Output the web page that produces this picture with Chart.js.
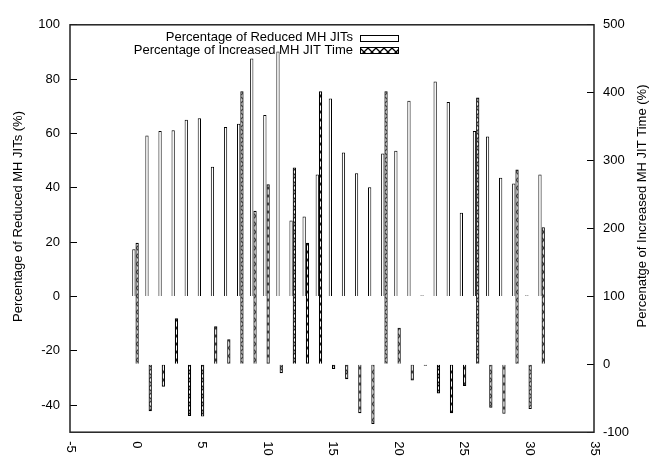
<!DOCTYPE html>
<html>
<head>
<meta charset="utf-8">
<script src="https://cdn.jsdelivr.net/npm/chart.js@4/dist/chart.umd.min.js"></script>
<style>
  html, body { margin: 0; padding: 0; background: #fff; }
  #wrap { width: 652px; height: 457px; }
</style>
</head>
<body>
<div id="wrap"><canvas id="jitChart" width="652" height="457"></canvas></div>
<script>
// Run index on x, one pair of bars per run
const runs = [0, 1, 2, 3, 4, 5, 6, 7, 8, 9, 10, 11, 12, 13, 14, 15,
  16, 17, 18, 19, 20, 21, 22, 23, 24, 25, 26, 27, 28, 29, 30, 31];

// left axis (%)
const reducedJITs = [17.4, 59.2, 60.9, 61.2, 65.0, 65.6, 47.7, 62.4, 63.6, 87.6, 66.8, 90.2,
  27.9, 29.4, 44.9, 72.9, 53.0, 45.3, 40.2, 52.6, 53.6, 72.0, 0.4, 79.1,
  71.6, 30.8, 60.9, 58.9, 43.7, 41.6, 0.4, 44.9];

// right axis (%)
const increasedJITTime = [179, -69, -33, 68, -76, -77, 56, 37, 402, 226, 265, -13,
  290, 179, 402, -7, -22, -72, -88, 402, 54, -24, -2, -43,
  -72, -32, 393, -64, -73, 287, -66, 202];

const leftTicks = [-40, -20, 0, 20, 40, 60, 80, 100];
const rightTicks = [-100, 0, 100, 200, 300, 400, 500];
const xTicks = [-5, 0, 5, 10, 15, 20, 25, 30, 35];

const seriesNames = ['Percentage of Reduced MH JITs', 'Percentage of Increased MH JIT Time'];
const leftTitle = 'Percentage of Reduced MH JITs (%)';
const rightTitle = 'Percenatge of Increased MH JIT Time (%)';

const FONT = '"Liberation Sans", Arial, Helvetica, sans-serif';
Chart.defaults.font.family = FONT;
Chart.defaults.font.size = 13;
Chart.defaults.color = '#000';

// crosshatch fill like gnuplot's pattern
function makeHatch() {
  const c = document.createElement('canvas');
  c.width = 8; c.height = 8;
  const g = c.getContext('2d');
  g.fillStyle = '#fff';
  g.fillRect(0, 0, 8, 8);
  g.strokeStyle = '#000';
  g.lineWidth = 1.3;
  g.beginPath();
  g.moveTo(0, 0); g.lineTo(8, 8);
  g.moveTo(8, 0); g.lineTo(0, 8);
  g.stroke();
  return g.createPattern(c, 'repeat');
}
const hatch = makeHatch();
const fills = ['#ffffff', hatch];

// frame, titles, rotated x labels and the in-plot key
const gnuplotDecor = {
  id: 'gnuplotDecor',
  afterDraw(chart) {
    const { ctx, chartArea: a, scales } = chart;
    ctx.save();
    ctx.strokeStyle = '#222';
    ctx.lineWidth = 1.5;
    ctx.strokeRect(a.left, a.top, a.right - a.left, a.bottom - a.top);

    ctx.fillStyle = '#000';
    ctx.font = '13px ' + FONT;

    // x tick labels, turned clockwise and clipped by the page bottom
    xTicks.forEach(v => {
      const px = scales.x.getPixelForValue(v);
      ctx.save();
      ctx.translate(px + 1, a.bottom + 9);
      ctx.rotate(Math.PI / 2);
      ctx.textAlign = 'left';
      ctx.textBaseline = 'middle';
      ctx.fillText(String(v), 0, 0);
      ctx.restore();
    });

    // axis titles, both reading bottom to top
    ctx.textAlign = 'center';
    ctx.textBaseline = 'middle';
    ctx.save();
    ctx.translate(18.5, 216.5);
    ctx.rotate(-Math.PI / 2);
    ctx.fillText(leftTitle, 0, 0);
    ctx.restore();
    ctx.save();
    ctx.translate(642, 206);
    ctx.rotate(-Math.PI / 2);
    ctx.fillText(rightTitle, 0, 0);
    ctx.restore();

    // key
    const textRight = a.left + 283;
    const boxLeft = a.left + 290;
    const boxW = 38, boxH = 6;
    seriesNames.forEach((name, i) => {
      const y = a.top + 13 + i * 12.5;
      ctx.textAlign = 'right';
      ctx.fillText(name, textRight, y);
      ctx.fillStyle = fills[i];
      ctx.fillRect(boxLeft, y - boxH / 2, boxW, boxH);
      ctx.strokeStyle = '#000';
      ctx.lineWidth = 1;
      ctx.strokeRect(boxLeft + 0.5, Math.round(y - boxH / 2) + 0.5, boxW, boxH);
      ctx.fillStyle = '#000';
    });
    ctx.restore();
  }
};

const tickGrid = { drawOnChartArea: false, drawTicks: true, tickLength: -7, color: '#000', lineWidth: 1 };

new Chart(document.getElementById('jitChart'), {
  type: 'bar',
  data: {
    datasets: [
      {
        label: seriesNames[0],
        data: runs.map((r, i) => ({ x: r, y: reducedJITs[i] })),
        yAxisID: 'y',
        backgroundColor: fills[0],
        borderColor: '#000',
        borderWidth: 1,
        categoryPercentage: 0.5,
        barPercentage: 1
      },
      {
        label: seriesNames[1],
        data: runs.map((r, i) => ({ x: r, y: increasedJITTime[i] })),
        yAxisID: 'y1',
        backgroundColor: fills[1],
        borderColor: '#000',
        borderWidth: 1.2,
        categoryPercentage: 0.5,
        barPercentage: 1
      }
    ]
  },
  options: {
    responsive: false,
    animation: false,
    devicePixelRatio: 1,
    layout: { padding: { top: 16, left: 0, right: 0, bottom: 0 } },
    plugins: { legend: { display: false }, tooltip: { enabled: false } },
    scales: {
      x: {
        type: 'linear', min: -5, max: 35, offset: false,
        grid: { display: false }, border: { display: false },
        ticks: { display: false },
        afterFit(s) { s.height = 22; }
      },
      y: {
        position: 'left', min: -50, max: 100,
        afterBuildTicks(s) { s.ticks = leftTicks.map(v => ({ value: v })); },
        ticks: { padding: 17, color: '#000' },
        grid: tickGrid,
        border: { display: false },
        afterFit(s) { s.width = 70; }
      },
      y1: {
        position: 'right', min: -100, max: 500,
        afterBuildTicks(s) { s.ticks = rightTicks.map(v => ({ value: v })); },
        ticks: { padding: 16, color: '#000' },
        grid: tickGrid,
        border: { display: false },
        afterFit(s) { s.width = 58; }
      }
    }
  },
  plugins: [gnuplotDecor]
});
</script>
</body>
</html>
